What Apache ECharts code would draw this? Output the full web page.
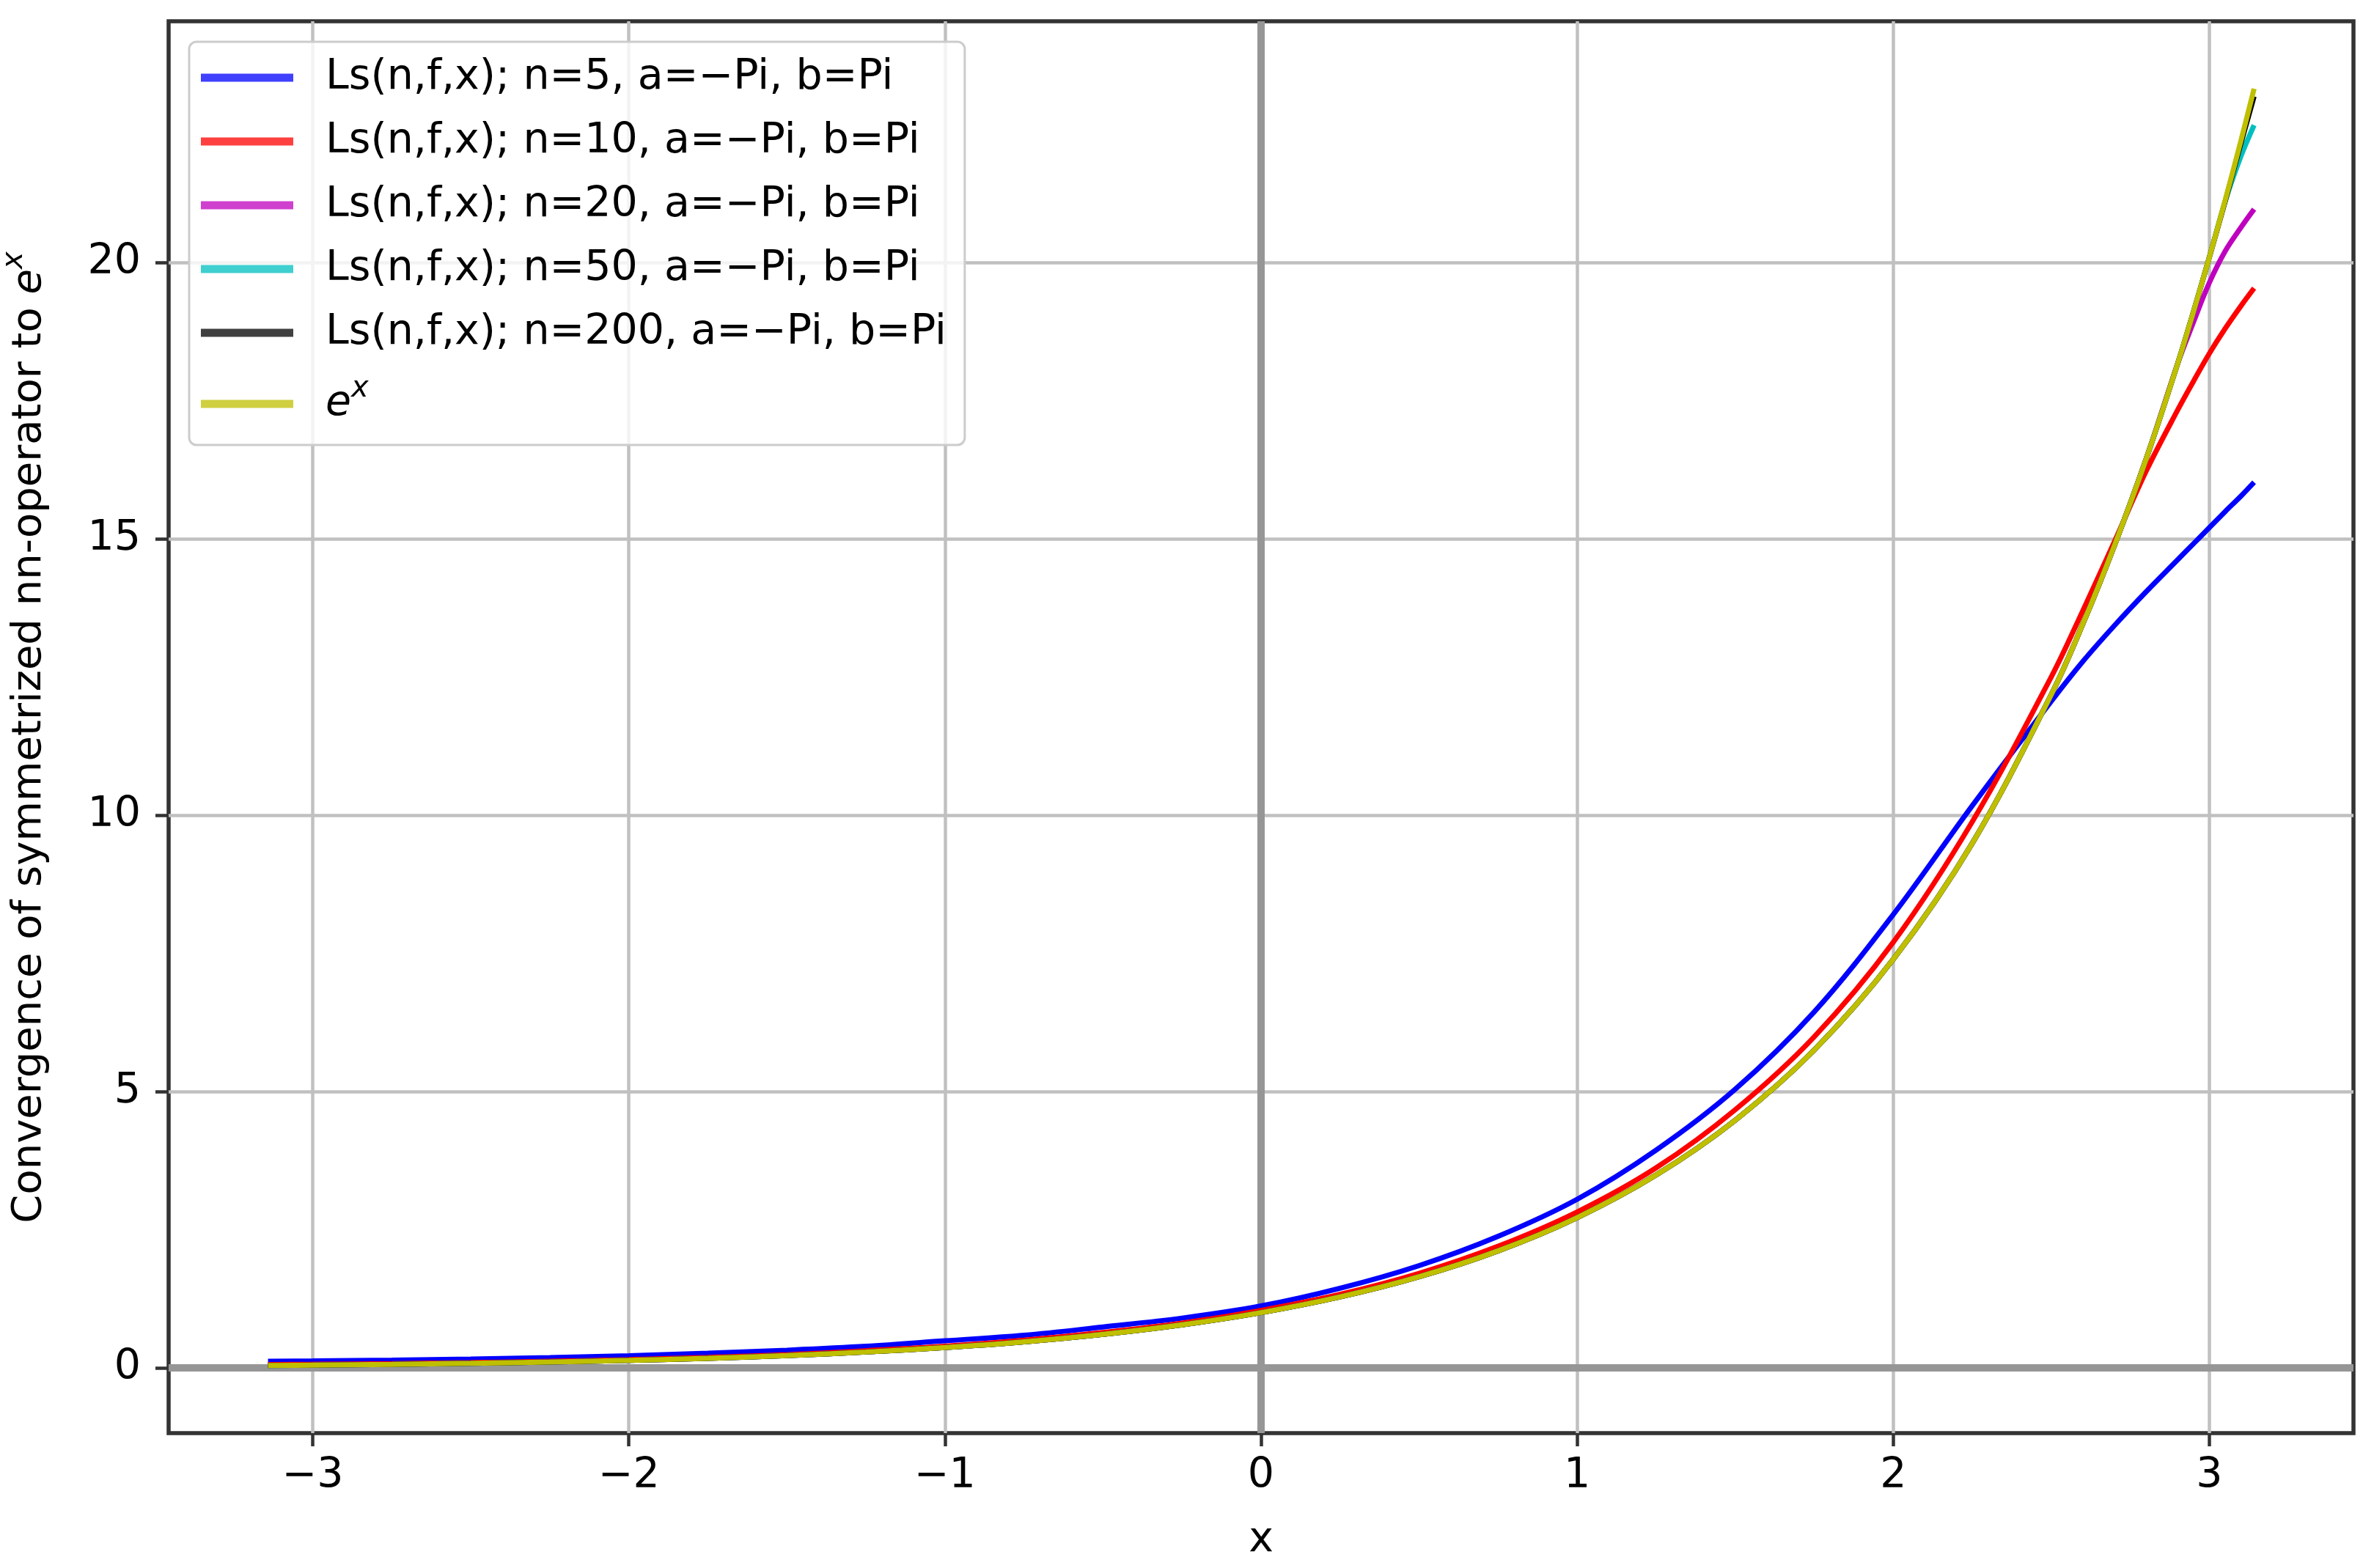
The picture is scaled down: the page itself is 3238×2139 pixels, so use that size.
<!DOCTYPE html>
<html>
<head>
<meta charset="utf-8">
<script src="https://cdn.jsdelivr.net/npm/echarts@6/dist/echarts.min.js"></script>
<style>
html,body{margin:0;padding:0;background:#fff;}
#chart{width:3238px;height:2139px;}
</style>
</head>
<body>
<div id="chart"></div>
<script>
// x sample positions
const xs   = [-3.1416, -3, -2.75, -2.5, -2.25, -2, -1.75, -1.5, -1.25, -1, -0.75, -0.5, -0.25, 0, 0.25, 0.5, 0.75, 1, 1.25, 1.5, 1.75, 2, 2.25, 2.5, 2.6, 2.7, 2.8, 2.9, 2.95, 3, 3.05, 3.1, 3.1416];
// series values
const n5   = [0.12, 0.125, 0.14, 0.16, 0.185, 0.22, 0.265, 0.32, 0.39, 0.49, 0.59, 0.74, 0.9, 1.12, 1.44, 1.85, 2.38, 3.05, 3.94, 5.04, 6.44, 8.2, 10.17, 12.06, 12.78, 13.43, 14.04, 14.62, 14.91, 15.2, 15.49, 15.77, 16.02];
const n10  = [0.06, 0.065, 0.078, 0.095, 0.12, 0.15, 0.19, 0.24, 0.31, 0.39, 0.5, 0.64, 0.81, 1.04, 1.33, 1.71, 2.2, 2.82, 3.62, 4.67, 5.99, 7.7, 9.88, 12.5, 13.7, 14.95, 16.22, 17.33, 17.85, 18.35, 18.8, 19.21, 19.53];
const n20  = [0.045, 0.05, 0.064, 0.082, 0.105, 0.135, 0.174, 0.223, 0.287, 0.368, 0.472, 0.607, 0.779, 1.0, 1.284, 1.649, 2.117, 2.718, 3.49, 4.48, 5.75, 7.39, 9.49, 12.18, 13.46, 14.88, 16.44, 18.17, 18.92, 19.63, 20.2, 20.63, 20.96];
const n50  = [0.044, 0.05, 0.064, 0.082, 0.105, 0.135, 0.174, 0.223, 0.287, 0.368, 0.472, 0.607, 0.779, 1.0, 1.284, 1.649, 2.117, 2.718, 3.49, 4.48, 5.75, 7.39, 9.49, 12.18, 13.46, 14.88, 16.44, 18.17, 19.11, 20.09, 21.1, 21.92, 22.48];
const n200 = [0.043, 0.05, 0.064, 0.082, 0.105, 0.135, 0.174, 0.223, 0.287, 0.368, 0.472, 0.607, 0.779, 1.0, 1.284, 1.649, 2.117, 2.718, 3.49, 4.48, 5.75, 7.39, 9.49, 12.18, 13.46, 14.88, 16.44, 18.17, 19.11, 20.09, 21.1, 22.15, 23.0];
const expx = [0.043, 0.05, 0.064, 0.082, 0.105, 0.135, 0.174, 0.223, 0.287, 0.368, 0.472, 0.607, 0.779, 1.0, 1.284, 1.649, 2.117, 2.718, 3.49, 4.48, 5.75, 7.39, 9.49, 12.18, 13.46, 14.88, 16.44, 18.17, 19.11, 20.09, 21.12, 22.2, 23.14];

const names = [
  'Ls(n,f,x); n=5, a=\u2212Pi, b=Pi',
  'Ls(n,f,x); n=10, a=\u2212Pi, b=Pi',
  'Ls(n,f,x); n=20, a=\u2212Pi, b=Pi',
  'Ls(n,f,x); n=50, a=\u2212Pi, b=Pi',
  'Ls(n,f,x); n=200, a=\u2212Pi, b=Pi',
  'e^x'
];
const xTicks = [-3, -2, -1, 0, 1, 2, 3];
const yTicks = [0, 5, 10, 15, 20];

const lineColors = ['#0000ff', '#ff0000', '#bf00bf', '#00bfbf', '#000000', '#bfbf00'];
const legendColors = ['#4040ff', '#ff4040', '#cf40cf', '#40cfcf', '#404040', '#cfcf40'];
const values = [n5, n10, n20, n50, n200, expx];

const FONT = 'DejaVu Sans';
const FS = 57;

const series = values.map((arr, k) => {
  const s = {
    name: names[k],
    type: 'line',
    data: xs.map((x, i) => [x, arr[i]]),
    showSymbol: false,
    symbol: 'none',
    smooth: 0.35,
    lineStyle: { color: lineColors[k], width: 7 },
    itemStyle: { color: lineColors[k] },
    silent: true,
    z: 3
  };
  if (k === 0) {
    s.markLine = {
      silent: true,
      symbol: ['none', 'none'],
      label: { show: false },
      lineStyle: { color: '#969696', width: 10, type: 'solid', opacity: 1 },
      data: [{ yAxis: 0 }, { xAxis: 0 }],
      z: 2
    };
  }
  return s;
});

const chart = echarts.init(document.getElementById('chart'), null, { renderer: 'canvas' });
chart.setOption({
  animation: false,
  backgroundColor: '#ffffff',
  grid: {
    left: 230, right: 28, top: 29, bottom: 184,
    show: true, borderColor: '#333333', borderWidth: 5.5, backgroundColor: 'transparent',
    containLabel: false,
    outerBoundsMode: 'none'
  },
  legend: {
    orient: 'vertical',
    left: 258, top: 57,
    padding: [19, 25, 16, 16],
    backgroundColor: 'rgba(255,255,255,0.8)',
    borderColor: '#cccccc', borderWidth: 3, borderRadius: 10,
    itemWidth: 126, itemHeight: 11, itemGap: 27,
    icon: 'rect',
    selectedMode: false,
    textStyle: {
      fontFamily: FONT, fontSize: FS, color: '#000000', lineHeight: 60,
      padding: [0, 0, 0, 39],
      rich: {
        it: { fontFamily: FONT, fontSize: FS, fontStyle: 'italic', color: '#000', lineHeight: 80 },
        sup: { fontFamily: FONT, fontSize: 40, fontStyle: 'italic', color: '#000', lineHeight: 40, verticalAlign: 'top' }
      }
    },
    formatter: function (n) { return n === 'e^x' ? '{it|e}{sup|x}' : n; },
    data: names.map((n, k) => ({ name: n, itemStyle: { color: legendColors[k] } })),
    z: 10
  },
  xAxis: {
    type: 'value',
    min: -3.456, max: 3.456,
    name: 'x',
    nameLocation: 'middle',
    nameGap: 118,
    nameTextStyle: { fontFamily: FONT, fontSize: FS, color: '#000' },
    axisLine: { show: false, onZero: false },
    axisTick: { show: true, inside: false, length: 18, lineStyle: { color: '#333', width: 4.5 }, customValues: xTicks },
    axisLabel: { show: true, margin: 31, fontFamily: FONT, fontSize: FS, color: '#000',
      customValues: xTicks,
      formatter: v => (v < 0 ? '\u2212' + Math.abs(v) : String(v)) },
    splitLine: { show: true, lineStyle: { color: '#c0c0c0', width: 4.5 } }
  },
  yAxis: {
    type: 'value',
    min: -1.18, max: 24.36,
    name: 'Convergence of symmetrized nn-operator to {e|e}{sup|x}',
    nameLocation: 'middle',
    nameRotate: 90,
    nameGap: 150,
    nameTextStyle: {
      fontFamily: FONT, fontSize: 56, color: '#000', lineHeight: 80,
      padding: [0, 28, 0, 0],
      rich: {
        e: { fontFamily: FONT, fontSize: 56, fontStyle: 'italic', color: '#000', lineHeight: 80 },
        sup: { fontFamily: FONT, fontSize: 40, fontStyle: 'italic', color: '#000', lineHeight: 40, verticalAlign: 'top' }
      }
    },
    axisLine: { show: false, onZero: false },
    axisTick: { show: true, inside: false, length: 18, lineStyle: { color: '#333', width: 4.5 }, customValues: yTicks },
    axisLabel: { show: true, margin: 38, fontFamily: FONT, fontSize: FS, color: '#000', customValues: yTicks },
    splitLine: { show: true, lineStyle: { color: '#c0c0c0', width: 4.5 } }
  },
  series: series
});
</script>
</body>
</html>
